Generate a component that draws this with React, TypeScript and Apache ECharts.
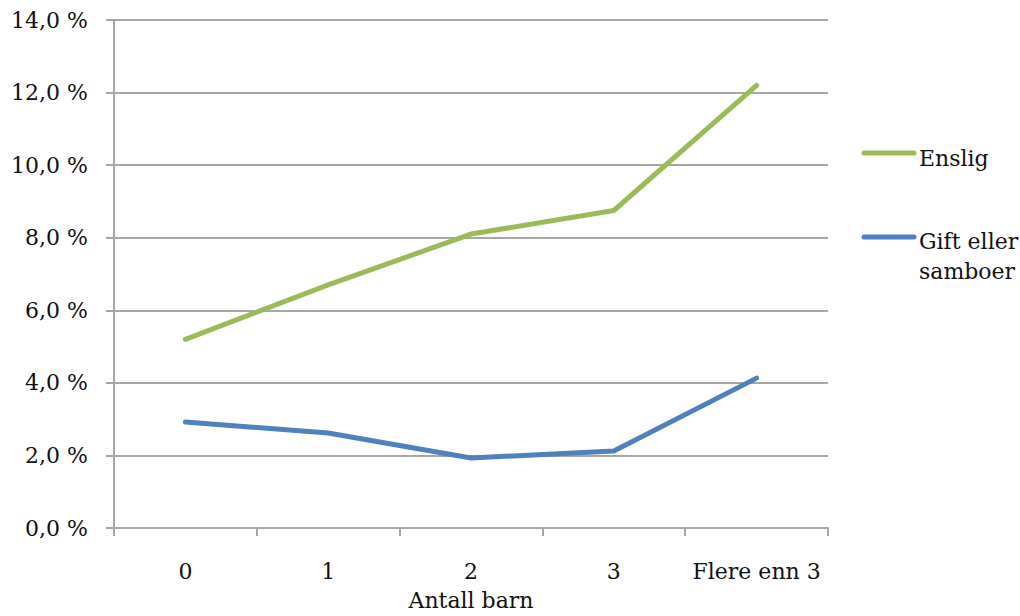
import React, { useEffect, useRef } from "react";
import * as echarts from "echarts";

const categories = ["0", "1", "2", "3", "Flere enn 3"];
const enslig = [5.2, 6.7, 8.1, 8.75, 12.2];
const giftEllerSamboer = [2.92, 2.62, 1.93, 2.12, 4.13];
const seriesNames = ["Enslig", "Gift eller samboer"];
const legendLabels = ["Enslig", "Gift eller\nsamboer"];
const xAxisName = "Antall barn";

const FONT = "'DejaVu Serif', serif";
const GREEN = "#9BBB59";
const BLUE = "#4F81BD";
const GRID = "#a6a6a6";
const TEXT = "#111111";

export default function App() {
  const ref = useRef<HTMLDivElement>(null);
  useEffect(() => {
    if (!ref.current) return;
    const chart = echarts.init(ref.current, undefined, { renderer: "svg" });
    chart.setOption({
      animation: false,
      backgroundColor: "#ffffff",
      grid: { left: 114, top: 20, right: 192, bottom: 84, containLabel: false },
      xAxis: {
        type: "category",
        data: categories,
        boundaryGap: true,
        name: xAxisName,
        nameLocation: "middle",
        nameGap: 61,
        nameTextStyle: { fontFamily: FONT, fontSize: 22, color: TEXT },
        axisLine: { lineStyle: { color: GRID, width: 2 } },
        axisTick: { show: true, interval: 0, length: 8, alignWithLabel: false, lineStyle: { color: GRID, width: 2 } },
        axisLabel: { interval: 0, margin: 32, fontFamily: FONT, fontSize: 22, color: TEXT },
      },
      yAxis: {
        type: "value",
        min: 0,
        max: 14,
        interval: 2,
        axisLine: { show: true, lineStyle: { color: GRID, width: 2 } },
        axisTick: { show: true, length: 8, lineStyle: { color: GRID, width: 2 } },
        splitLine: { show: true, lineStyle: { color: GRID, width: 2 } },
        axisLabel: {
          margin: 26,
          fontFamily: FONT,
          fontSize: 22,
          color: TEXT,
          formatter: (v: number) => v.toFixed(1).replace(".", ",") + " %",
        },
      },
      legend: { show: false },
      series: [
        {
          name: seriesNames[0],
          type: "line",
          data: enslig,
          symbol: "none",
          lineStyle: { color: GREEN, width: 5, cap: "round", join: "round" },
          itemStyle: { color: GREEN },
        },
        {
          name: seriesNames[1],
          type: "line",
          data: giftEllerSamboer,
          symbol: "none",
          lineStyle: { color: BLUE, width: 5, cap: "round", join: "round" },
          itemStyle: { color: BLUE },
        },
      ],
      graphic: [
        {
          type: "line",
          shape: { x1: 864, y1: 153, x2: 914, y2: 153 },
          style: { stroke: GREEN, lineWidth: 5, lineCap: "round" },
        },
        {
          type: "text",
          x: 919,
          y: 158,
          style: {
            text: legendLabels[0],
            fontFamily: FONT,
            fontSize: 22,
            fill: TEXT,
            verticalAlign: "middle",
          },
        },
        {
          type: "line",
          shape: { x1: 864, y1: 237, x2: 914, y2: 237 },
          style: { stroke: BLUE, lineWidth: 5, lineCap: "round" },
        },
        {
          type: "text",
          x: 919,
          y: 226,
          style: {
            text: legendLabels[1],
            fontFamily: FONT,
            fontSize: 22,
            lineHeight: 30,
            fill: TEXT,
            verticalAlign: "top",
          },
        },
      ],
    });
    return () => chart.dispose();
  }, []);
  return (
    <div
      ref={ref}
      style={{ position: "fixed", left: 0, top: 0, width: 1020, height: 616 }}
    />
  );
}
